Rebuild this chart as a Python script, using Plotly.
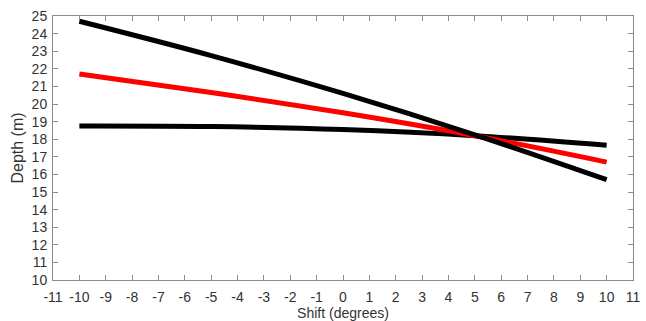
import plotly.graph_objects as go

shift = [-10, -5, 0, 5, 10]
depth_top = [24.7, 22.75, 20.6, 18.25, 15.7]
depth_red = [21.7, 20.65, 19.5, 18.2, 16.7]
depth_bottom = [18.75, 18.72, 18.55, 18.2, 17.65]

x_ticks = list(range(-11, 12))
x_labels = [str(v) for v in x_ticks]
y_ticks = list(range(10, 26))
y_labels = [str(v) for v in y_ticks]

FONT = "Liberation Sans, Arial"

fig = go.Figure()
fig.add_trace(go.Scatter(x=shift, y=depth_bottom, mode="lines", line=dict(color="black", width=5, shape="spline")))
fig.add_trace(go.Scatter(x=shift, y=depth_red, mode="lines", line=dict(color="#ff0000", width=5, shape="spline")))
fig.add_trace(go.Scatter(x=shift, y=depth_top, mode="lines", line=dict(color="black", width=5, shape="spline")))

axis_common = dict(
    showgrid=False, zeroline=False, showline=True, linecolor="#8c8c8c", linewidth=1,
    mirror="allticks", ticks="inside", ticklen=5, tickcolor="#8c8c8c",
    tickfont=dict(family=FONT, size=14, color="#333333"), automargin=False,
)
fig.update_xaxes(range=[-11, 11], tickvals=x_ticks, ticktext=x_labels, ticklabelstandoff=4,
                 title=dict(text="Shift (degrees)", font=dict(family=FONT, size=14, color="#333333"), standoff=8),
                 **axis_common)
fig.update_yaxes(range=[10, 25], tickvals=y_ticks, ticktext=y_labels, ticklabelstandoff=2,
                 title=dict(text="Depth (m)", font=dict(family=FONT, size=16, color="#333333"), standoff=4),
                 **axis_common)

fig.update_layout(
    width=646, height=321, showlegend=False,
    margin=dict(l=53, r=13, t=16, b=41),
    plot_bgcolor="white", paper_bgcolor="white",
)
fig.write_html("out.html")
